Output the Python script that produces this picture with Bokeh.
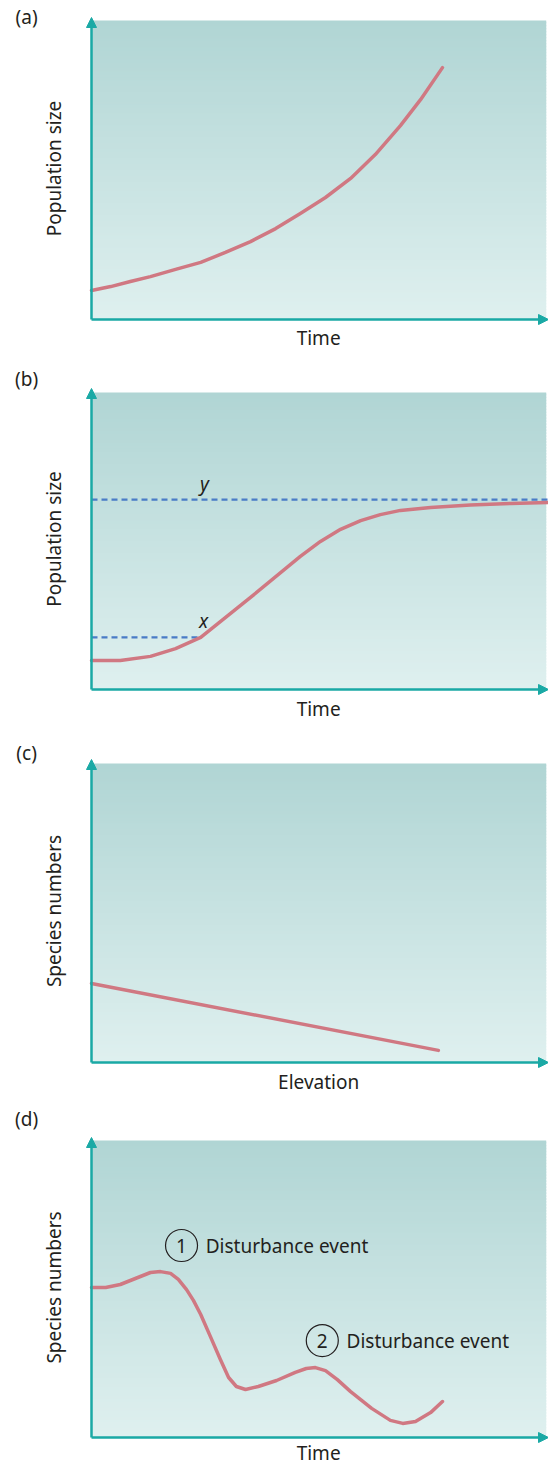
import math
from bokeh.plotting import figure
from bokeh.layouts import column
from bokeh.models import Range1d, Arrow, NormalHead
from bokeh.core.properties import value
from bokeh.embed import file_html
from bokeh.resources import INLINE

# ---------------- data ----------------
# (a) exponential growth
a_time = [0, 4.2, 8.5, 12.9, 18.4, 23.9, 29.3, 34.8, 40.3, 45.7, 51.2, 56.7, 62.1, 67.6, 72.0, 76.8]
a_pop = [9.6, 10.9, 12.6, 14.2, 16.6, 18.9, 22.2, 25.8, 30.1, 35.1, 40.4, 46.7, 54.6, 64.2, 72.8, 83.4]

# (b) logistic growth
b_time = [0, 6.3, 12.9, 18.4, 23.9, 34.8, 45.7, 50.1, 54.5, 58.9, 63.2, 67.6, 74.2, 82.9, 91.7, 100]
b_pop = [9.6, 9.6, 11.0, 13.6, 17.3, 30.6, 44.2, 49.2, 53.2, 56.1, 58.1, 59.5, 60.5, 61.3, 61.8, 62.1]
b_level_x = 17.3      # population level x
b_level_x_time = 23.9
b_level_y = 63.1      # population level y (carrying capacity)
b_marks = ["y", "x"]

# (c) species numbers vs elevation
c_elev = [0, 75.9]
c_species = [26.1, 4.0]

# (d) species numbers with disturbance events
d_time = [0, 3.1, 6.3, 9.6, 12.9, 15.1, 17.3, 19.0, 20.8, 22.3, 23.9, 26.0, 28.2, 30.0, 31.7,
          33.7, 36.5, 40.5, 44.6, 47.0, 49.0, 51.2, 53.8, 56.7, 61.3, 65.4, 68.1, 70.9, 74.2, 76.8]
d_species = [50.0, 50.0, 51.0, 53.0, 55.0, 55.3, 54.7, 52.7, 49.3, 45.7, 41.0, 33.7, 26.0, 20.0, 17.0,
             16.0, 17.0, 19.0, 21.7, 23.0, 23.3, 22.3, 19.3, 15.3, 9.7, 5.7, 4.7, 5.3, 8.3, 12.0]
d_events = ["1", "2"]
d_event_time = [19.7, 50.5]
d_event_y = [64.0, 32.3]
d_event_text = ["Disturbance event", "Disturbance event"]

panel_letters = ["(a)", "(b)", "(c)", "(d)"]
x_titles = ["Time", "Time", "Elevation", "Time"]
y_titles = ["Population size", "Population size", "Species numbers", "Species numbers"]

# ---------------- style / geometry ----------------
FONT = "Noto Sans"
FS = "19px"
TEAL = "#1aa9a5"
CURVE = "#d07882"
BLUE = "#4a7cc6"
TXT = "#231f20"
TOP = (176, 213, 212)
BOT = (223, 240, 239)

W = 548
AX_LEFT = 91            # pixel of y axis
PX_X = 4.57             # pixels per x unit
# per panel: (fig height, axis pixel from fig top, px per y unit, shade top, letter y, title y)
geom = [
    (365, 319, 3.02, 99.0, 100.3, -6.0),
    (373, 324, 3.01, 98.7, 103.3, -6.6),
    (362, 324, 3.03, 98.7, 102.3, -6.6),
    (365, 337, 3.00, 99.0, 106.3, -5.0),
]


def make_panel(i):
    h, ax_px, px_y, shade_top, letter_y, title_y = geom[i]
    x0 = -AX_LEFT / PX_X
    x1 = (W - AX_LEFT) / PX_X
    y1 = ax_px / px_y
    y0 = -(h - ax_px) / px_y
    p = figure(width=W, height=h, output_backend="svg", toolbar_location=None,
               x_range=Range1d(x0, x1), y_range=Range1d(y0, y1),
               min_border=0)
    p.outline_line_color = None
    p.grid.visible = False
    p.axis.visible = False
    p.background_fill_color = "white"
    p.border_fill_color = "white"

    # gradient background (overlapping stripes)
    n = 100
    bottoms, tops, cols = [], [], []
    for k in range(n):
        b = shade_top * k / n
        t = min(shade_top * (k + 1) / n + 0.6, shade_top)
        f = (k + 0.5) / n
        c = tuple(int(round(BOT[j] + (TOP[j] - BOT[j]) * f)) for j in range(3))
        bottoms.append(b)
        tops.append(t)
        cols.append("#%02x%02x%02x" % c)
    p.quad(left=0, right=99.5, bottom=bottoms, top=tops, fill_color=cols,
           line_color=None)

    # axes with arrow heads
    p.add_layout(Arrow(end=NormalHead(size=10, fill_color=TEAL, line_color=TEAL),
                       x_start=0, y_start=0, x_end=0, y_end=100,
                       line_color=TEAL, line_width=2.5))
    p.add_layout(Arrow(end=NormalHead(size=10, fill_color=TEAL, line_color=TEAL),
                       x_start=0, y_start=0, x_end=100, y_end=0,
                       line_color=TEAL, line_width=2.5))

    # titles
    p.text(x=[-14.2], y=[letter_y], text=[panel_letters[i]], text_font=value(FONT),
           text_font_size=FS, text_color=TXT, text_align="center",
           text_baseline="middle")
    p.text(x=[49.7], y=[title_y], text=[x_titles[i]], text_font=value(FONT),
           text_font_size=FS, text_color=TXT, text_align="center",
           text_baseline="middle")
    p.text(x=[-8.3], y=[50], text=[y_titles[i]], angle=math.pi / 2,
           text_font=value(FONT), text_font_size=FS, text_color=TXT,
           text_align="center", text_baseline="middle")
    return p


pa = make_panel(0)
pa.line(a_time, a_pop, line_color=CURVE, line_width=3.5, line_cap="round",
        line_join="round")

pb = make_panel(1)
pb.line([0, 100], [b_level_y, b_level_y], line_color=BLUE, line_width=2.3,
        line_dash="6 4")
pb.line([0, b_level_x_time], [b_level_x, b_level_x], line_color=BLUE,
        line_width=2.3, line_dash="6 4")
pb.line(b_time, b_pop, line_color=CURVE, line_width=3.5, line_cap="round",
        line_join="round")
pb.text(x=[24.7, 24.5], y=[68.4, 22.9], text=b_marks,
        text_font=value(FONT), text_font_size=FS, text_font_style="italic",
        text_color=TXT, text_align="center", text_baseline="middle")

pc = make_panel(2)
pc.line(c_elev, c_species, line_color=CURVE, line_width=3.5, line_cap="round")

pd = make_panel(3)
pd.line(d_time, d_species, line_color=CURVE, line_width=3.5, line_cap="round",
        line_join="round")
pd.scatter(d_event_time, d_event_y, size=32, marker="circle", fill_color=None,
           line_color=TXT, line_width=1.2)
pd.text(x=d_event_time, y=d_event_y, text=d_events, text_font=value(FONT),
        text_font_size=FS, text_color=TXT, text_align="center",
        text_baseline="middle")
pd.text(x=[t + 5.3 for t in d_event_time], y=d_event_y, text=d_event_text,
        text_font=value(FONT), text_font_size=FS, text_color=TXT,
        text_align="left", text_baseline="middle")

layout_col = column(pa, pb, pc, pd, spacing=0)

open("out.html", "w").write(file_html(layout_col, INLINE))
